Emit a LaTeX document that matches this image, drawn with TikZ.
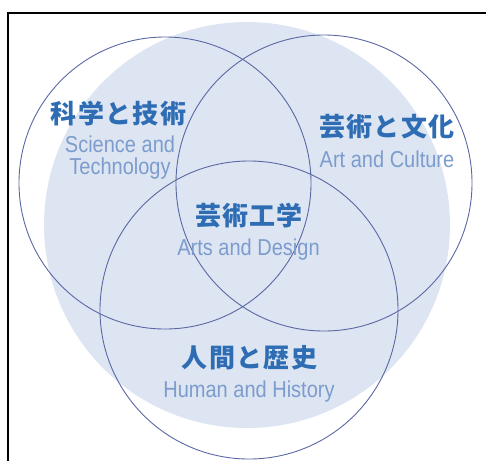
\documentclass[tikz,border=0pt]{standalone}
\usepackage{fontspec}
\newfontfamily\cjk[LetterSpace=5]{Noto Sans CJK JP}
\newfontfamily\engl[FakeStretch=0.87]{Liberation Sans}
\definecolor{diskfill}{HTML}{DDE5F2}
\definecolor{ringline}{HTML}{5A68A3}
\definecolor{jpblue}{HTML}{2E6DB4}
\definecolor{enblue}{HTML}{7C9CCD}
\begin{document}
\begin{tikzpicture}[x=1pt,y=-1pt,
  ring/.style={circle,draw=ringline,line width=0.9pt,inner sep=0pt},
  jp/.style={anchor=base,text=jpblue,inner sep=0pt,font=\cjk\bfseries\fontsize{26}{30}\selectfont},
  en/.style={anchor=base,text=enblue,inner sep=0pt,font=\engl\fontsize{23}{27}\selectfont},
  frameline/.style={line width=2pt,black}]
\useasboundingbox (0,0) rectangle (486,461);
% background disk
\node[circle,fill=diskfill,minimum size=406pt,inner sep=0pt] (disk) at (247,225) {};
% rings
\node[ring,minimum size=292pt] (sci) at (165,183) {};
\node[ring,minimum size=296pt] (art) at (324,183) {};
\node[ring,minimum size=298pt] (hum) at (249,310) {};
% frame
\coordinate (ftl) at (7.5,12.5);
\coordinate (ftr) at (486,12.5);
\coordinate (fbl) at (7.5,461);
\draw[frameline] (ftr) -- (ftl) -- (fbl);
% labels
\node[jp] (sciJ) at (118.5,123) {科学と技術};
\node[en] (sciE1) at (120,152) {Science and};
\node[en] (sciE2) at (120,174) {Technology};
\node[jp] (artJ) at (387,136) {芸術と文化};
\node[en] (artE) at (387,167) {Art and Culture};
\node[jp] (adJ) at (249,225) {芸術工学};
\node[en] (adE) at (248.5,255) {Arts and Design};
\node[jp] (humJ) at (249.5,367) {人間と歴史};
\node[en] (humE) at (249,397) {Human and History};
\end{tikzpicture}
\end{document}
